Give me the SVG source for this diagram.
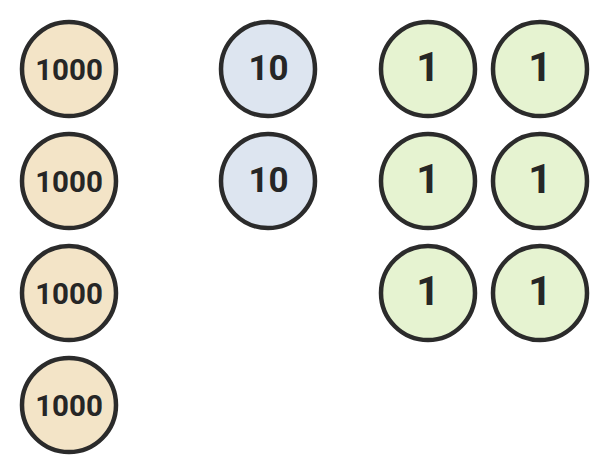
<svg xmlns="http://www.w3.org/2000/svg" width="610" height="474" viewBox="0 0 610 474">
<style>
circle{stroke:#2b2b2b;stroke-width:4.5}
.k circle{fill:#f3e4c7}
.t circle{fill:#dde5f0}
.o circle{fill:#e6f3d1}
text{fill:#262626;text-anchor:middle;font-family:Roboto,Arial,sans-serif;font-weight:bold}
.k text{font-size:29.5px}
.t text{font-size:35px}
.o text{font-size:41px}
</style>
<rect width="610" height="474" fill="#fff"/>
<g id="k1" class="k"><circle cx="69" cy="69" r="47"/><text x="69" y="79.5">1000</text></g>
<g id="k2" class="k"><circle cx="69" cy="181" r="47"/><text x="69" y="191.5">1000</text></g>
<g id="k3" class="k"><circle cx="69" cy="293" r="47"/><text x="69" y="303.5">1000</text></g>
<g id="k4" class="k"><circle cx="69" cy="405" r="47"/><text x="69" y="415.5">1000</text></g>
<g id="t1" class="t"><circle cx="268" cy="69" r="47"/><text x="268.5" y="80">10</text></g>
<g id="t2" class="t"><circle cx="268" cy="181" r="47"/><text x="268.5" y="192">10</text></g>
<g id="o1" class="o"><circle cx="428" cy="69" r="47"/><text x="428" y="81">1</text></g>
<g id="o2" class="o"><circle cx="540" cy="69" r="47"/><text x="540" y="81">1</text></g>
<g id="o3" class="o"><circle cx="428" cy="181" r="47"/><text x="428" y="193">1</text></g>
<g id="o4" class="o"><circle cx="540" cy="181" r="47"/><text x="540" y="193">1</text></g>
<g id="o5" class="o"><circle cx="428" cy="293" r="47"/><text x="428" y="305">1</text></g>
<g id="o6" class="o"><circle cx="540" cy="293" r="47"/><text x="540" y="305">1</text></g>
</svg>
